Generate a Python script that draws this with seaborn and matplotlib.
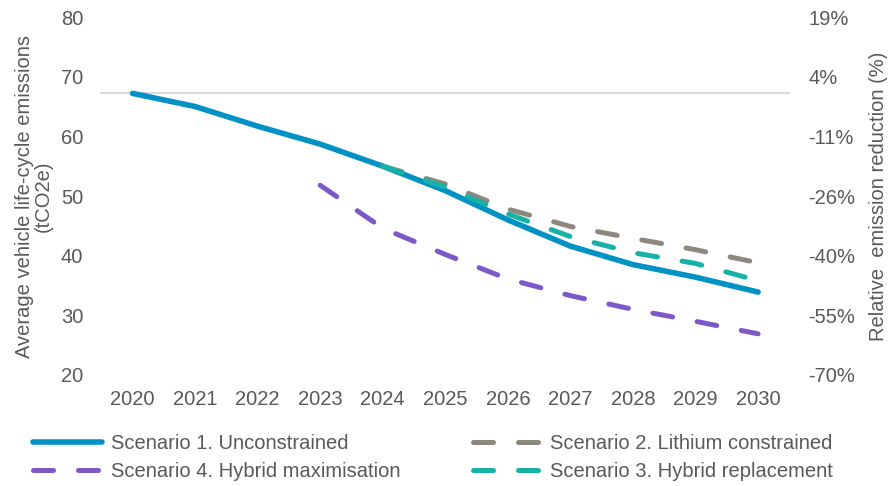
import matplotlib.pyplot as plt
import seaborn as sns
import numpy as np
import pandas as pd

# data
years = list(range(2020, 2031))
nan = np.nan
s1_unconstrained = [67.2, 65.0, 61.7, 58.7, 55.0, 50.9, 46.0, 41.6, 38.5, 36.4, 33.9]
s2_lithium = [nan, nan, nan, nan, 55.0, 52.0, 47.8, 44.9, 42.9, 41.0, 38.8]
s3_hybrid_repl = [nan, nan, nan, nan, 55.0, 51.5, 47.0, 43.2, 40.5, 38.7, 35.8]
s4_hybrid_max = [nan, nan, nan, 51.8, 44.6, 40.2, 36.1, 33.3, 31.0, 29.0, 26.9]
labels = ['Scenario 1. Unconstrained', 'Scenario 2. Lithium constrained',
          'Scenario 3. Hybrid replacement', 'Scenario 4. Hybrid maximisation']
yticks = [20, 30, 40, 50, 60, 70, 80]
baseline = s1_unconstrained[0]

colors = ['#0092C4', '#8E877D', '#17B2A7', '#7E57C9']
txt = '#595959'

sns.set_theme(style='white')
plt.rcParams['font.family'] = ['Liberation Sans', 'DejaVu Sans']

fig = plt.figure(figsize=(8.88, 4.86), dpi=100)
ax = fig.add_axes([0.1126, 0.2284, 0.777, 0.7366])

ax.axhline(baseline, color='#D9D9D9', lw=1.5, zorder=1)

series = [s1_unconstrained, s2_lithium, s3_hybrid_repl, s4_hybrid_max]
lines = []
for i, vals in enumerate(series):
    df = pd.DataFrame({'year': years, 'value': vals}).dropna()
    sns.lineplot(data=df, x='year', y='value', ax=ax, color=colors[i],
                 linewidth=4.0 if i == 0 else 3.6, zorder=3 + i)
    ln = ax.lines[-1]
    if i == 0:
        ln.set_solid_capstyle('round')
    else:
        ln.set_linestyle((0, (4.0, 5.0)))
        ln.set_dash_capstyle('round')
    ln.set_label(labels[i])
    lines.append(ln)

if ax.get_legend() is not None:
    ax.get_legend().remove()

ax.set_xlim(2019.48, 2030.51)
ax.set_ylim(20, 80)
ax.set_xticks(years)
ax.set_yticks(yticks)
ax.tick_params(axis='both', length=0, labelsize=14.5, colors=txt)
ax.tick_params(axis='y', pad=12)
ax.tick_params(axis='x', pad=11)
ax.set_xlabel('')
ax.set_ylabel('Average vehicle life-cycle emissions\n(tCO2e)', fontsize=14.5,
              color=txt, linespacing=1.0, labelpad=6)

ax2 = ax.twinx()
ax2.set_position(ax.get_position())
ax2.set_ylim(ax.get_ylim())
ax2.set_yticks(yticks)
ax2.set_yticklabels([f'{(t / baseline - 1) * 100:.0f}%' for t in yticks])
ax2.tick_params(axis='y', length=0, labelsize=14.5, colors=txt, pad=13)
ax2.set_ylabel('Relative  emission reduction (%)', fontsize=14.5, color=txt, labelpad=10)
ax2.grid(False)
ax.grid(False)
for a in (ax, ax2):
    for s in a.spines.values():
        s.set_visible(False)

order = [lines[0], lines[3], lines[1], lines[2]]
fig.legend(handles=order, labels=[l.get_label() for l in order], loc='center left',
           bbox_to_anchor=(0.0372, 0.0586), ncol=2, frameon=False, fontsize=14.5,
           handlelength=3.4, handletextpad=0.45, columnspacing=3.6,
           labelspacing=0.42, borderpad=0, borderaxespad=0, labelcolor=txt)

fig.savefig('out.png', dpi=100)
